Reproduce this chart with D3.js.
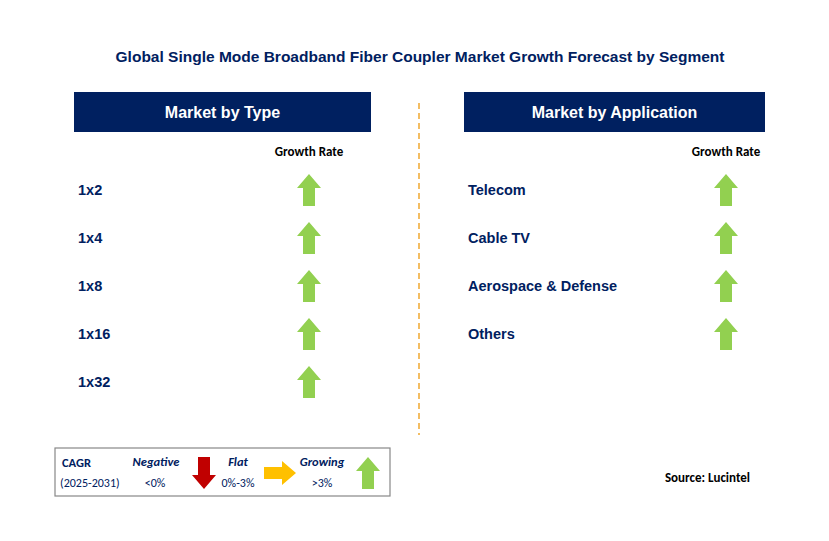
<!DOCTYPE html>
<html><head><meta charset="utf-8">
<script src="https://cdn.jsdelivr.net/npm/d3@7"></script>
<style>body{margin:0;background:#fff}</style>
</head><body>
<script>
const typeLabels = ["1x2", "1x4", "1x8", "1x16", "1x32"];
const typeGrowth = ["up", "up", "up", "up", "up"];
const appLabels = ["Telecom", "Cable TV", "Aerospace & Defense", "Others"];
const appGrowth = ["up", "up", "up", "up"];

const W = 829, H = 541;
const navy = "#002060", green = "#92D050", red = "#C00000", amber = "#FFC000";
const svg = d3.select("body").append("svg").attr("width", W).attr("height", H)
  .style("font-family", "Arial, 'Liberation Sans', sans-serif");

svg.append("text").attr("x", 420).attr("y", 62).attr("text-anchor", "middle")
  .attr("fill", navy).attr("font-weight", "bold").attr("font-size", 15.5)
  .text("Global Single Mode Broadband Fiber Coupler Market Growth Forecast by Segment");

// divider
svg.append("line").attr("x1", 419).attr("x2", 419).attr("y1", 103).attr("y2", 435)
  .attr("stroke", "#F0A830").attr("stroke-width", 1.5).attr("stroke-dasharray", "6,4");

// row scale shared by both panels
const y = d3.scalePoint().domain(d3.range(5)).range([190, 382]);

function arrow(g, cx, cy, dir, color) {
  // up arrow shape, rotated for other directions
  const p = "M0,-16 L12,-2 L6,-2 L6,16 L-6,16 L-6,-2 L-12,-2 Z";
  const rot = dir === "up" ? 0 : dir === "down" ? 180 : 90;
  g.append("path").attr("d", p).attr("fill", color)
    .attr("transform", `translate(${cx},${cy}) rotate(${rot})`);
}

function panel(x0, w, title, labels, growth, labelX, arrowX) {
  svg.append("rect").attr("x", x0).attr("y", 92).attr("width", w).attr("height", 40).attr("fill", navy);
  svg.append("text").attr("x", x0 + w / 2).attr("y", 118).attr("text-anchor", "middle")
    .attr("fill", "#fff").attr("font-weight", "bold").attr("font-size", 16).text(title);
  svg.append("text").attr("x", arrowX).attr("y", 156).attr("text-anchor", "middle")
    .attr("font-family", "Calibri, Carlito, 'Open Sans', sans-serif")
    .attr("font-weight", "bold").attr("font-size", 13).attr("fill", "#000").text("Growth Rate");
  labels.forEach((d, i) => {
    svg.append("text").attr("x", labelX).attr("y", y(i) + 5).attr("fill", navy)
      .attr("font-weight", "bold").attr("font-size", 14.5).text(d);
    arrow(svg, arrowX, y(i), growth[i], growth[i] === "up" ? green : growth[i] === "down" ? red : amber);
  });
}
panel(74, 297, "Market by Type", typeLabels, typeGrowth, 78, 309);
panel(464, 301, "Market by Application", appLabels, appGrowth, 468, 726);

// legend
const lg = svg.append("g").attr("font-family", "Calibri, Carlito, 'Open Sans', sans-serif");
lg.append("rect").attr("x", 55).attr("y", 448).attr("width", 335).attr("height", 48)
  .attr("fill", "#fff").attr("stroke", "#888").attr("stroke-width", 1.2);
lg.append("text").attr("x", 62).attr("y", 467).attr("fill", navy).attr("font-weight", "bold").attr("font-size", 12.5).text("CAGR");
lg.append("text").attr("x", 60).attr("y", 487).attr("fill", navy).attr("font-size", 12).text("(2025-2031)");
[["Negative", "<0%", 156, "down", red, 204], ["Flat", "0%-3%", 238, "right", amber, 280], ["Growing", ">3%", 322, "up", green, 368]]
  .forEach(([t, v, x, dir, c, ax]) => {
    lg.append("text").attr("x", x).attr("y", 466).attr("text-anchor", "middle").attr("fill", navy)
      .attr("font-weight", "bold").attr("font-style", "italic").attr("font-size", 12.5).text(t);
    lg.append("text").attr("x", x - (dir === "down" ? 1 : 0)).attr("y", 487).attr("text-anchor", "middle")
      .attr("fill", navy).attr("font-size", 12).text(v);
    arrow(lg, ax, 473, dir, c);
  });

svg.append("text").attr("x", 750).attr("y", 482).attr("text-anchor", "end")
  .attr("font-family", "Calibri, Carlito, 'Open Sans', sans-serif")
  .attr("font-weight", "bold").attr("font-size", 13).attr("fill", "#000").text("Source: Lucintel");
</script>
</body></html>
